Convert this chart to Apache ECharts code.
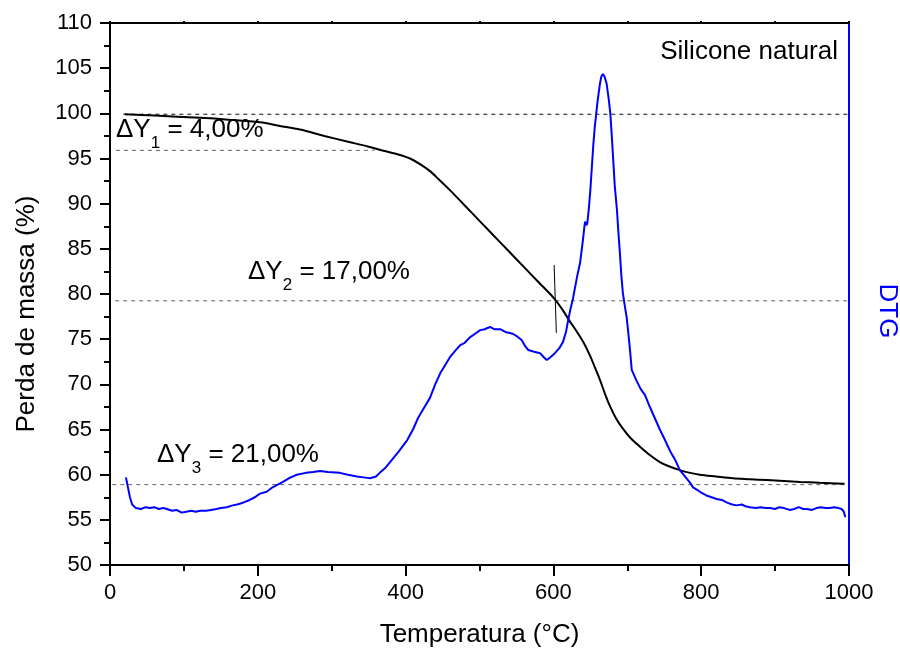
<!DOCTYPE html>
<html><head><meta charset="utf-8">
<script src="https://cdn.jsdelivr.net/npm/echarts@6/dist/echarts.min.js"></script>
<style>html,body{margin:0;padding:0;background:#fff}#c{width:900px;height:650px}</style>
</head><body><div id="c"></div><script>
// TG curve (mass loss, %)
const tgTemp = [20,60,122,160,203,230,257,290,325,350,370,390,406,420,433,446,460,480,500,520,540,560,580,600,612,622,632,641,650,656,663,670,677,685,694,705,717,730,744,757,771,785,798,820,843,866,889,912,934,960,994];
const tgMass = [99.9,99.75,99.5,99.3,99.0,98.6,98.2,97.5,96.8,96.3,95.85,95.45,95.0,94.35,93.6,92.6,91.5,89.8,88.1,86.4,84.7,83.0,81.3,79.6,78.3,77.0,75.8,74.6,73.1,71.9,70.5,68.9,67.5,66.2,65.1,64.0,63.1,62.2,61.4,60.9,60.5,60.2,60.0,59.8,59.6,59.5,59.4,59.3,59.2,59.1,59.0];
// DTG curve (drawn in the left-axis units)
const dtgTemp = [21.6,24,27,30,35,42,48,54,60,66,72,77,84,90,97,103,110,116,122,130,137,144,150,158,166,172,180,189,196,203,212,220,227,234,242,253,265,275,284,295,311,322,334,343,352,360,365,372,379,390,402,410,417,425,433,440,447,454,460,467,474,480,487,494,501,507,514,520,528,535,545,551,557,562,566,574,582,587,591,596,602,608,613,617,620,623,626,629,632,636,640,642,643,645,646,648,650,652,654,656,658,660,663,665,667,669,672,675,677,679,681,683,686,688,690,692,694,697,699,701,704,706,712,718,724,730,737,744,750,758,765,771,778,784,789,795,800,807,814,821,828,835,842,848,855,860,866,874,880,887,893,900,906,912,920,926,932,938,943,950,956,962,968,974,980,986,990,993,995];
const dtgVal = [59.7,58.7,57.5,56.7,56.3,56.2,56.4,56.3,56.4,56.2,56.3,56.2,56.0,56.1,55.8,55.9,56.0,55.9,56.0,56.0,56.1,56.2,56.3,56.4,56.6,56.7,56.9,57.2,57.5,57.9,58.1,58.6,58.9,59.2,59.6,60.0,60.2,60.3,60.4,60.3,60.2,60.0,59.8,59.7,59.6,59.8,60.2,60.7,61.4,62.5,63.8,65.0,66.3,67.4,68.5,70.0,71.25,72.2,73.0,73.7,74.35,74.6,75.2,75.6,76.0,76.1,76.35,76.1,76.1,75.8,75.6,75.3,74.9,74.2,73.8,73.6,73.45,73.0,72.7,73.0,73.45,74.0,74.7,75.8,77.1,78.3,79.3,80.6,81.9,83.4,86.0,87.5,88.0,87.6,87.9,89.5,91.5,94.0,96.5,98.5,100.0,101.5,103.3,104.1,104.35,104.1,103.3,101.5,100.0,97.5,94.8,92.0,89.3,86.8,84.5,82.0,80.1,78.5,77.5,76.0,73.5,71.6,70.5,69.5,68.8,67.6,66.3,65.0,64.0,62.6,61.6,60.5,59.8,59.2,58.6,58.3,58.0,57.7,57.5,57.3,57.2,56.9,56.7,56.6,56.7,56.5,56.4,56.3,56.4,56.3,56.3,56.2,56.4,56.3,56.1,56.2,56.4,56.2,56.2,56.1,56.3,56.4,56.3,56.3,56.4,56.3,56.2,55.9,55.3];
// Reference levels (dashed)
const levelValues = [99.9, 95.9, 79.25, 58.9];
const levelStart = [18, 8, 7, 3];
const levelEnd = [1000, 358, 1000, 994];
const levelColors = ['#111', '#666', '#666', '#666'];
// Tangent mark
const tangentTemp = [601, 604];
const tangentMass = [83.2, 75.7];
// Labels
const deltaLabels = [['1', '4,00%'], ['2', '17,00%'], ['3', '21,00%']];

const FONT = 'Liberation Sans, Arial, sans-serif';
const chart = echarts.init(document.getElementById('c'), null, {renderer: 'canvas'});

const zip = (a, b) => a.map((v, i) => [v, b[i]]);

const series = [];
levelValues.forEach((v, i) => {
  series.push({
    type: 'line', symbol: 'none', silent: true, z: 1,
    data: [[levelStart[i], v], [levelEnd[i], v]],
    lineStyle: {color: levelColors[i], width: 1, type: [4, 4]}
  });
});
series.push({type: 'line', symbol: 'none', z: 3, smooth: 0.3, data: zip(tgTemp, tgMass), lineStyle: {color: '#000', width: 2}});
series.push({type: 'line', symbol: 'none', z: 4, data: zip(dtgTemp, dtgVal), lineStyle: {color: '#0000ff', width: 2}});
series.push({type: 'line', symbol: 'none', z: 5, data: zip(tangentTemp, tangentMass), lineStyle: {color: '#000', width: 1}});

const rich = {
  a: {fontSize: 26, fontFamily: FONT, color: '#000', lineHeight: 26, verticalAlign: 'bottom', padding: [0, 0, 9, 0]},
  s: {fontSize: 17, fontFamily: FONT, color: '#000', lineHeight: 17, verticalAlign: 'bottom'}
};
const deltaPos = [[116, 117], [248, 259], [157, 442]];
const graphics = deltaLabels.map((d, i) => ({
  type: 'text', left: deltaPos[i][0], top: deltaPos[i][1], z: 10,
  style: {text: '{a|ΔY}{s|' + d[0] + '}{a| = ' + d[1] + '}', rich: rich}
}));
graphics.push({type: 'text', x: 838, y: 39, z: 10,
  style: {text: 'Silicone natural', font: '26px ' + FONT, fill: '#000', align: 'right', verticalAlign: 'top'}});
graphics.push({type: 'text', x: 27, y: 314, rotation: Math.PI / 2, z: 10,
  style: {text: 'Perda de massa (%)', font: '26px ' + FONT, fill: '#000', align: 'center', verticalAlign: 'middle'}});
graphics.push({type: 'text', x: 887, y: 311, rotation: -Math.PI / 2, z: 10,
  style: {text: 'DTG', font: '26px ' + FONT, fill: '#0000ff', align: 'center', verticalAlign: 'middle'}});

chart.setOption({
  animation: false,
  backgroundColor: '#fff',
  grid: {left: 110, right: 51, top: 23, bottom: 85, containLabel: false, outerBoundsMode: 'none'},
  xAxis: [{
    type: 'value', min: 0, max: 1000, interval: 200, position: 'bottom',
    name: 'Temperatura (°C)', nameLocation: 'middle', nameGap: 57,
    nameTextStyle: {fontSize: 26, fontFamily: FONT, color: '#000'},
    axisLine: {show: true, onZero: false, lineStyle: {color: '#000', width: 2}},
    axisTick: {show: true, length: 11, lineStyle: {color: '#000', width: 2}},
    minorTick: {show: true, splitNumber: 2, length: 6, lineStyle: {color: '#000', width: 2}},
    axisLabel: {fontSize: 22, fontFamily: FONT, color: '#000', margin: 17, formatter: v => String(v)},
    splitLine: {show: false}
  }, {
    type: 'value', min: 0, max: 1000, interval: 200, position: 'top',
    axisLine: {show: true, onZero: false, lineStyle: {color: '#000', width: 2}},
    axisTick: {show: true, length: 2, lineStyle: {color: '#000', width: 2}},
    minorTick: {show: true, splitNumber: 2, length: 2, lineStyle: {color: '#000', width: 2}},
    axisLabel: {show: false}, splitLine: {show: false}
  }],
  yAxis: [{
    type: 'value', min: 50, max: 110, interval: 5, position: 'left',
    axisLine: {show: true, onZero: false, lineStyle: {color: '#000', width: 2}},
    axisTick: {show: true, length: 10, lineStyle: {color: '#000', width: 2}},
    minorTick: {show: true, splitNumber: 2, length: 6, lineStyle: {color: '#000', width: 2}},
    axisLabel: {fontSize: 22, fontFamily: FONT, color: '#000', margin: 18, formatter: v => String(v)},
    splitLine: {show: false}
  }, {
    type: 'value', min: 50, max: 110, interval: 5, position: 'right',
    axisLine: {show: true, onZero: false, lineStyle: {color: '#0000ff', width: 2}},
    axisTick: {show: false}, axisLabel: {show: false}, splitLine: {show: false}
  }],
  series: series,
  graphic: graphics
});
</script></body></html>
